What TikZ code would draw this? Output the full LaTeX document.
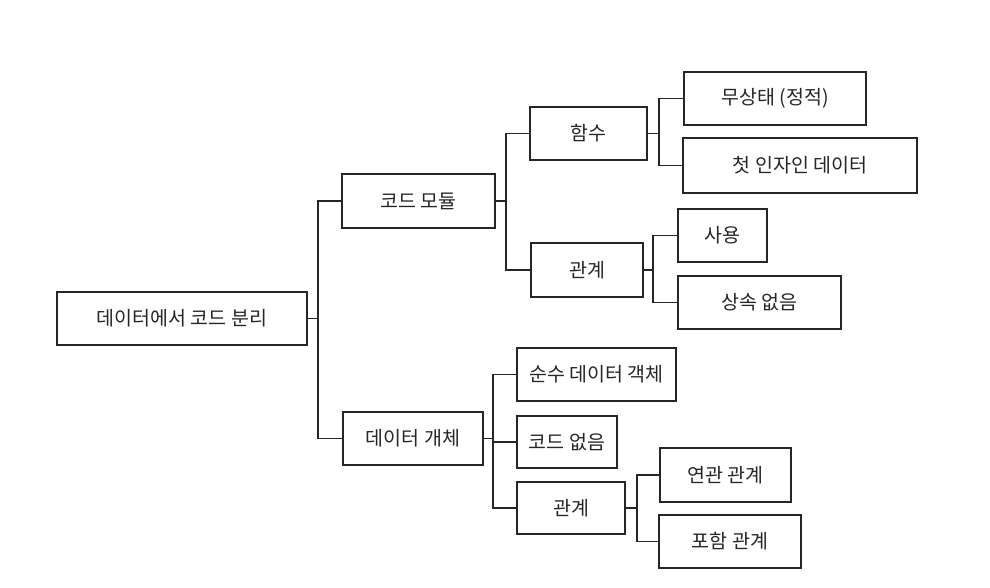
\documentclass[tikz,border=0pt]{standalone}
\usepackage{fontspec}
\setmainfont{Noto Sans CJK KR}
\begin{document}
\begin{tikzpicture}[x=1pt,y=-1pt,
  box/.style={draw=black!85, line width=1.5pt, inner sep=0pt, font=\fontsize{19.5}{22}\selectfont, text=black!85},
  link/.style={draw=black!85, line width=1.5pt}]
\fill[white] (0,0) rectangle (990,588);
\useasboundingbox (0,0) rectangle (990,588);
\node[box, minimum width=250pt, minimum height=53pt] (root) at (182,318.5) {데이터에서 코드 분리};
\node[box, minimum width=153pt, minimum height=54pt] (cm) at (418.5,201) {코드 모듈};
\node[box, minimum width=140pt, minimum height=53pt] (do) at (413,438.5) {데이터 개체};
\node[box, minimum width=117pt, minimum height=53pt] (fn) at (588.5,133.5) {함수};
\node[box, minimum width=112pt, minimum height=54pt] (relA) at (587,270) {관계};
\node[box, minimum width=182pt, minimum height=53pt] (st) at (775,98.5) {무상태 (정적)};
\node[box, minimum width=234pt, minimum height=55pt] (fa) at (800,165.5) {첫 인자인 데이터};
\node[box, minimum width=89pt, minimum height=53pt] (use) at (722.5,235.5) {사용};
\node[box, minimum width=163pt, minimum height=53pt] (noinh) at (759.5,302.5) {상속 없음};
\node[box, minimum width=159pt, minimum height=53pt] (pure) at (596.5,374.5) {순수 데이터 객체};
\node[box, minimum width=100pt, minimum height=52pt] (nocode) at (567,442) {코드 없음};
\node[box, minimum width=108pt, minimum height=52pt] (relB) at (571,508) {관계};
\node[box, minimum width=131pt, minimum height=54pt] (assoc) at (725.5,475) {연관 관계};
\node[box, minimum width=142pt, minimum height=53pt] (comp) at (730,541.5) {포함 관계};
\coordinate (jr) at (318,0);
\coordinate (jcm) at (506,0);
\coordinate (jdo) at (493,0);
\coordinate (jfn) at (659,0);
\coordinate (jra) at (653,0);
\coordinate (jrb) at (637,0);
\draw[link] (root.east) -- (root.east -| jr) |- (cm.west);
\draw[link] (root.east -| jr) |- (do.west);
\draw[link] (cm.east) -- (cm.east -| jcm) |- (fn.west);
\draw[link] (cm.east -| jcm) |- (relA.west);
\draw[link] (fn.east) -- (fn.east -| jfn) |- (st.west);
\draw[link] (fn.east -| jfn) |- (fa.west);
\draw[link] (relA.east) -- (relA.east -| jra) |- (use.west);
\draw[link] (relA.east -| jra) |- (noinh.west);
\draw[link] (do.east) -- (do.east -| jdo) |- (pure.west);
\draw[link] (do.east -| jdo) |- (nocode.west);
\draw[link] (do.east -| jdo) |- (relB.west);
\draw[link] (relB.east) -- (relB.east -| jrb) |- (assoc.west);
\draw[link] (relB.east -| jrb) |- (comp.west);
\end{tikzpicture}
\end{document}
